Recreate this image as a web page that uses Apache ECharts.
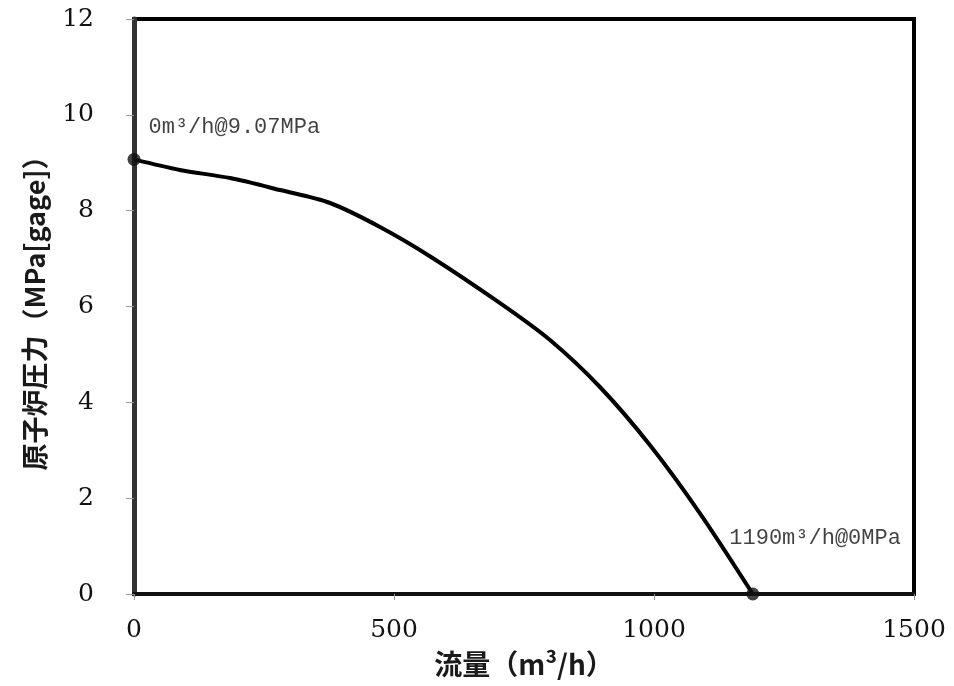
<!DOCTYPE html>
<html>
<head>
<meta charset="utf-8">
<script src="https://cdn.jsdelivr.net/npm/echarts@6/dist/echarts.min.js"></script>
<style>html,body{margin:0;padding:0;background:#fff;}#c{width:954px;height:686px;}</style>
</head>
<body>
<div id="c"></div>
<script>
// Flow (m3/h) vs reactor pressure (MPa gage)
var flow = [0, 88, 185, 281, 377, 473, 569, 704, 800, 896, 992, 1088, 1190];
var pressure = [9.07, 8.85, 8.68, 8.43, 8.16, 7.66, 7.05, 6.07, 5.30, 4.32, 3.11, 1.69, 0];
var endFlow = [0, 1190];
var endPressure = [9.07, 0];
var endLabels = ['0m³/h@9.07MPa', '1190m³/h@0MPa'];
var xTicks = [0, 500, 1000, 1500];
var yTicks = [0, 2, 4, 6, 8, 10, 12];

var chart = echarts.init(document.getElementById('c'), null, {renderer: 'canvas'});
var curve = flow.map(function (f, i) { return [f, pressure[i]]; });
var labelOffsets = [[8, -32], [-30, -56]];
var ends = endFlow.map(function (f, i) {
  return {
    value: [f, endPressure[i]],
    label: {
      show: true,
      formatter: endLabels[i],
      position: 'right',
      distance: 0,
      offset: labelOffsets[i]
    }
  };
});
var serif = 'DejaVu Serif';
chart.setOption({
  animation: false,
  backgroundColor: '#fff',
  grid: {left: 134, right: 40, top: 19, bottom: 92, show: true, borderColor: '#000', borderWidth: 4},
  xAxis: {
    type: 'value', min: xTicks[0], max: xTicks[xTicks.length - 1], interval: 500,
    name: '流量（m³/h）', nameLocation: 'middle', nameGap: 56,
    nameTextStyle: {fontFamily: 'Noto Sans CJK JP', fontWeight: 'bold', fontSize: 28, color: '#1a1a1a'},
    axisLine: {show: true, lineStyle: {color: '#111', width: 4}},
    axisTick: {show: true, inside: false, length: 6, lineStyle: {color: '#999', width: 1}},
    axisLabel: {fontFamily: serif, fontSize: 25, color: '#111', margin: 24, formatter: function (v) { return String(v); }},
    splitLine: {show: false}
  },
  yAxis: {
    type: 'value', min: yTicks[0], max: yTicks[yTicks.length - 1], interval: 2,
    name: '原子炉圧力（MPa[gage]）', nameLocation: 'middle', nameGap: 86,
    nameTextStyle: {fontFamily: 'Noto Sans CJK JP', fontWeight: 'bold', fontSize: 27, color: '#1a1a1a'},
    axisLine: {show: true, lineStyle: {color: '#333', width: 5}},
    axisTick: {show: true, inside: false, length: 8, lineStyle: {color: '#999', width: 1}},
    axisLabel: {fontFamily: serif, fontSize: 25, color: '#111', margin: 40},
    splitLine: {show: false}
  },
  series: [
    {
      type: 'line', data: curve, smooth: 0.3, showSymbol: false,
      lineStyle: {color: '#000', width: 4}, z: 3
    },
    {
      type: 'scatter', data: ends, symbol: 'circle', symbolSize: 13,
      itemStyle: {color: '#111'},
      label: {fontFamily: 'Liberation Mono', fontSize: 22, color: '#111'},
      z: 5
    }
  ]
});
</script>
</body>
</html>
